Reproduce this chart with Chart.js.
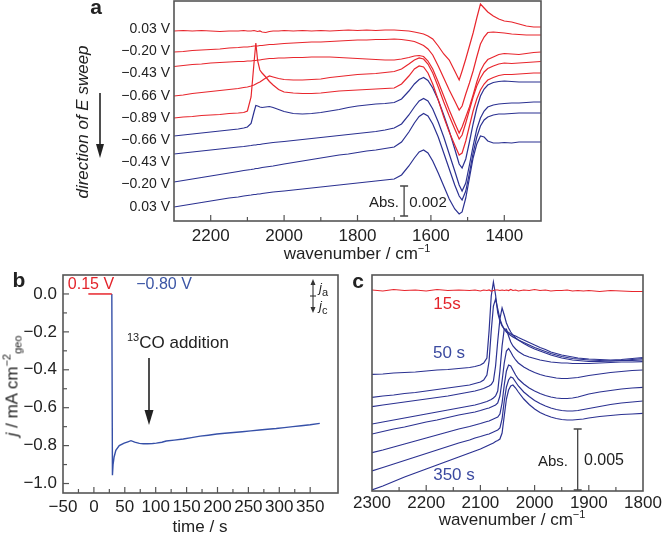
<!DOCTYPE html>
<html>
<head>
<meta charset="utf-8">
<script src="https://cdn.jsdelivr.net/npm/chart.js@4.4.0/dist/chart.umd.min.js"></script>
<style>
  body { margin: 0; background: #fff; font-family: "Liberation Sans", Arial, sans-serif; color: #222; }
  #wrap { position: relative; width: 666px; height: 533px; overflow: hidden; }
  canvas { position: absolute; }
  .t { position: absolute; white-space: nowrap; font-size: 17px; line-height: 1; }
  .c { transform: translate(-50%, -50%); }
  .t sup, .t sub { font-size: 11px; line-height: 0; }
  svg { position: absolute; left: 0; top: 0; }
</style>
</head>
<body>
<div id="wrap">
  <canvas id="chartA" width="560" height="262" style="left:0;top:0"></canvas>
  <canvas id="chartB" width="345" height="265" style="left:0;top:268px"></canvas>
  <canvas id="chartC" width="321" height="265" style="left:345px;top:268px"></canvas>

  <!-- panel a text -->
  <div class="t c" style="left:96px;top:6px;font-weight:bold;font-size:21px">a</div>
  <div class="t" style="left:82px;top:122px;transform:translate(-50%,-50%) rotate(-90deg);font-style:italic">direction of E sweep</div>
  <div class="t c" style="left:357px;top:253px">wavenumber / cm<sup>−1</sup></div>
  <div class="t c" style="left:384px;top:201px;font-size:15px">Abs.</div>
  <div class="t c" style="left:428px;top:201px;font-size:15px">0.002</div>

  <!-- panel b text -->
  <div class="t c" style="left:19px;top:279px;font-weight:bold;font-size:21px">b</div>
  <div class="t c" style="left:91px;top:284px;font-size:16px;color:#e3242b">0.15 V</div>
  <div class="t c" style="left:164px;top:284px;font-size:16px;color:#3b55a5">−0.80 V</div>
  <div class="t c" style="left:178px;top:342px"><sup>13</sup>CO addition</div>
  <div class="t" style="left:12px;top:386px;transform:translate(-50%,-50%) rotate(-90deg)"><i>j</i> / mA cm<sup>−2</sup><sub>geo</sub></div>
  <div class="t c" style="left:200px;top:526px">time / s</div>
  <div class="t" style="left:319px;top:281px;font-size:13px"><i>j</i><sub>a</sub></div>
  <div class="t" style="left:319px;top:299px;font-size:13px"><i>j</i><sub>c</sub></div>

  <!-- panel c text -->
  <div class="t c" style="left:358px;top:280px;font-weight:bold;font-size:21px">c</div>
  <div class="t c" style="left:447px;top:303px;color:#e3242b">15s</div>
  <div class="t c" style="left:449px;top:352px;color:#3b4aa0">50 s</div>
  <div class="t c" style="left:454px;top:474px;color:#3b4aa0">350 s</div>
  <div class="t c" style="left:553px;top:460px;font-size:15px">Abs.</div>
  <div class="t c" style="left:604px;top:460px;font-size:16px">0.005</div>
  <div class="t c" style="left:512px;top:519px">wavenumber / cm<sup>−1</sup></div>

  <svg width="666" height="533">
    <g stroke="#222" stroke-width="1.6" fill="#222">
      <line x1="100" y1="93" x2="100" y2="148"/>
      <polygon points="96,144 104,144 100,158" stroke="none"/>
      <line x1="149" y1="358" x2="149" y2="414"/>
      <polygon points="144.5,410 153.5,410 149,425" stroke="none"/>
    </g>
    <g stroke="#333" stroke-width="1.1" fill="#333">
      <line x1="313" y1="283" x2="313" y2="309"/>
      <line x1="310" y1="296" x2="316" y2="296"/>
      <polygon points="310.5,285 315.5,285 313,279" stroke="none"/>
      <polygon points="310.5,307 315.5,307 313,313" stroke="none"/>
    </g>
  </svg>
</div>

<script>
const RED = '#e8262d';
const BLUE = '#2b3191';
const TICK_FONT = { family: "'Liberation Sans', Arial, sans-serif", size: 17 };

// ---- panel a: potential-dependent spectra (height units: 30 = 0.002 Abs) ----
const WN_A = [2300, 2275, 2250, 2225, 2200, 2175, 2150, 2125, 2110, 2100, 2090, 2082, 2077, 2072, 2066,
  2060, 2050, 2040, 2030, 2015, 2000, 1975, 1950, 1925, 1900, 1875, 1850, 1825, 1800, 1775,
  1750, 1725, 1700, 1680, 1660, 1645, 1632, 1620, 1608, 1595, 1580, 1565, 1550, 1535, 1523,
  1515, 1505, 1495, 1485, 1475, 1465, 1455, 1445, 1430, 1415, 1400, 1380, 1360, 1340, 1320, 1300];
const V_LABELS = ['0.03 V', '−0.20 V', '−0.43 V', '−0.66 V', '−0.89 V', '−0.66 V', '−0.43 V', '−0.20 V', '0.03 V'];

const A_RED_003 = [190, 190.5, 190, 190.5, 190, 189.5, 190, 190, 190.5, 190, 190, 190.5, 190, 189.5, 190,
  189, 188.5, 189.5, 190, 190, 190.5, 190, 190.5, 190, 190.5, 190, 190.5, 191, 190.5, 191,
  190.5, 191, 191, 190.5, 190, 189, 188, 187, 185, 182, 175, 167, 161, 150, 141,
  150, 162, 175, 188, 203, 217, 213, 209, 205, 202, 200, 199, 197, 195, 194, 194];
const A_RED_020 = [169, 169.5, 170.5, 171, 171.5, 172, 173, 173.5, 174, 174, 174.5, 175, 175, 175, 175.5,
  175.5, 176, 176.5, 176.5, 177, 177.5, 178, 178.5, 179, 179, 179.5, 180, 180.5, 181, 181,
  181.5, 181.5, 182, 181.5, 180.5, 179.5, 177.5, 175.5, 172, 166, 155, 143, 131, 120, 111,
  115, 127, 138, 150, 164, 177, 184, 188.5, 189, 188.5, 188, 187, 186.5, 186, 186, 186];
const A_RED_043 = [154.5, 155.5, 156.5, 157, 158, 158.5, 159, 159.5, 159.5, 160, 160, 160.5, 160.5, 161, 161,
  161.5, 162, 162.5, 162.5, 163, 163, 163.5, 163.5, 164, 164, 164, 163.5, 163, 162.5, 162,
  161.5, 161, 161, 162, 163.5, 165, 165.5, 164.5, 160, 152, 139, 125, 111, 98, 88,
  94, 104, 114, 126, 139, 150, 157, 161.5, 164, 166.5, 167.5, 167, 166.5, 167.5, 168.5, 169];
const A_RED_066 = [125, 126, 127.5, 128.5, 129.5, 130.5, 131.5, 132.5, 133.5, 134, 135, 136, 137, 138, 139,
  140.5, 143, 145, 144, 142.5, 141.5, 141, 141, 141.5, 142, 143.5, 144.5, 145.5, 146.5, 147,
  147.5, 148.5, 149.5, 152, 157, 161, 163, 162, 157, 148, 134, 119, 105, 92, 82,
  86, 98, 111, 124, 135, 143, 149, 152.5, 155, 157, 158, 157.5, 158, 158.5, 159, 159.5];
const A_RED_089 = [103, 104, 104.5, 105.5, 106, 106.5, 107.5, 108, 108.5, 110, 124, 158, 178, 160, 151,
  148, 144, 139.5, 136, 131.5, 129, 128, 127.5, 127.5, 128, 129, 130, 130.5, 131, 131.5,
  132, 132.5, 133, 137, 145, 152, 155, 154, 148, 137, 121, 104, 89, 76, 66,
  68, 80, 95, 110, 122, 131, 137, 141, 143.5, 145.5, 146.5, 146.5, 147, 147.5, 148, 148];
const A_BLUE_066 = [85, 86, 87, 88, 89, 90, 91, 92, 93, 94, 97.5, 109, 115.5, 115, 114,
  113.5, 114, 114.5, 113.5, 111.5, 109.5, 107.5, 107, 107.5, 108.5, 110, 111.5, 113.5, 115, 116,
  117, 117.5, 118.5, 122, 130, 137, 141.5, 143.5, 140.5, 133, 121, 106, 90, 72, 57,
  53, 62, 79, 97, 113, 125, 132, 136, 138.5, 139.5, 140, 139.5, 139, 139, 139, 139];
const A_BLUE_043 = [67, 68, 69, 70, 71, 72, 73, 74, 74.5, 75, 75.5, 76, 76, 76.5, 76.5,
  77, 77.5, 78, 78.5, 79, 79.5, 80.5, 81.5, 82.5, 83.5, 84.5, 85.5, 86.5, 87.5, 88.5,
  89.5, 91, 93, 97, 106, 114, 120, 122.5, 120, 112, 99, 84, 67, 50, 36,
  30, 38, 56, 75, 92, 103, 110, 114, 116, 117, 117.5, 118, 118, 118.5, 119, 119];
const A_BLUE_020 = [39, 40.5, 42, 43.5, 45, 46.5, 48, 49.5, 50.5, 51, 51.5, 52, 52.5, 52.5, 53,
  53.5, 54, 54.5, 55, 56, 57, 58.5, 60, 61.5, 63, 64.5, 66, 67, 68.5, 70,
  71, 72.5, 74, 79, 89, 98, 104.5, 107.5, 105, 97, 84, 68, 52, 36, 25,
  21, 30, 48, 68, 84, 95, 101, 104, 106, 107, 107, 107.5, 108, 108, 108, 108];
const A_BLUE_003 = [14, 15.5, 17, 18.5, 20, 21.5, 23, 24, 25, 25.5, 26, 26.5, 26.5, 27, 27,
  27.5, 28, 28.5, 29, 29.5, 30, 31, 32, 33, 34, 35, 36, 37, 38, 39,
  40, 41, 42, 46, 55, 63, 69, 71, 68, 60, 48, 35, 22, 12, 7,
  9, 23, 43, 63, 77, 85, 84, 80, 78, 78, 78.5, 78, 79, 79, 79, 79];

// ---- panel b: chronoamperometry ----
const T_RED = [-9, 29];
const J_RED = [0, 0];
const T_BLUE = [29, 30, 31, 32.7, 35.5, 41, 49, 55, 60, 66, 73.6, 80, 87, 95, 101, 110, 117, 130, 144.6, 158,
  172, 185, 199, 212, 226, 240, 254, 268, 281, 295, 308, 322, 335.5, 350, 365.5];
const J_BLUE = [0, -0.956, -0.90, -0.86, -0.825, -0.80, -0.787, -0.78, -0.774, -0.782, -0.788, -0.79, -0.79, -0.789, -0.787,
  -0.782, -0.776, -0.771, -0.765, -0.758, -0.750, -0.745, -0.739, -0.735, -0.731, -0.727, -0.722, -0.718, -0.714,
  -0.710, -0.705, -0.700, -0.695, -0.690, -0.683];

// ---- panel c: time-resolved spectra (height units: 62 = 0.005 Abs) ----
const WN_C = [2300, 2280, 2260, 2240, 2220, 2200, 2180, 2160, 2140, 2120, 2110, 2100, 2094, 2088, 2084,
  2080, 2076, 2072, 2068, 2064, 2060, 2056, 2052, 2048, 2044, 2040, 2035, 2030, 2020, 2010,
  2000, 1990, 1980, 1970, 1960, 1950, 1940, 1930, 1920, 1910, 1900, 1880, 1860, 1840, 1820, 1800];
const C_15S = [201, 200, 201.5, 200.5, 201, 200, 201.5, 200.5, 201, 200.5, 201, 200, 201, 200.5, 201,
  200, 200.5, 201, 201, 200.5, 201, 200.5, 201, 200.5, 201.5, 200.5, 201, 200, 201, 200.5,
  201.5, 200.5, 201, 200, 200.5, 200.5, 201, 200, 200.5, 200, 200.5, 199.5, 200.5, 200, 199.5, 199.5];
const C_BLUE = [
  [116.7, 117, 118, 118.5, 119, 120, 121, 121.5, 122.5, 123.5, 124.5, 126, 128, 133, 160,
   195, 209, 196, 178, 170, 165, 162, 160, 158.5, 157, 156, 155, 153.5, 151, 148.5,
   146, 143.5, 141.5, 139, 137.5, 136, 135, 134, 133, 132.5, 132, 131.5, 131, 131.5, 132.5, 133.5],
  [93.7, 95, 96, 97.5, 98.5, 100, 101.5, 103, 104.5, 106, 107.5, 109, 111, 116, 130,
   160, 185, 192, 182, 172, 166, 162, 159, 157, 155.5, 154, 152.5, 151, 148.5, 146,
   143.5, 141.5, 139.5, 137.5, 136, 134.5, 133.5, 132.5, 132, 131.5, 131, 130.5, 130, 130.5, 131.5, 132.3],
  [84.3, 86, 87.5, 89, 90.5, 92, 93.5, 95, 97, 99, 100, 101.5, 102.5, 104, 105,
   106.5, 110, 125, 150, 172, 183, 176, 168, 163, 159, 156, 153, 151, 147.5, 144.5,
   142, 140, 138, 136, 134.5, 133, 132, 131, 130.5, 130, 129.5, 129.5, 130, 130.5, 130.5, 131],
  [67, 69, 71, 73, 75, 77, 79, 81, 83, 85, 86, 87.5, 88.5, 89.5, 90.5,
   91.5, 93, 95, 100, 120, 145, 162, 162, 155, 149, 145, 142, 139.5, 136, 134,
   132.5, 131, 130, 129, 128.5, 128, 128, 127.5, 127.5, 127.5, 127.5, 128, 128.5, 129, 129, 129.3],
  [57, 59.5, 62, 64, 66.5, 69, 71, 73.5, 76, 78, 79, 80.5, 81.5, 82.5, 83,
   84, 85, 86, 88, 95, 110, 128, 140, 142.5, 139, 135, 131, 128, 124, 121,
   118.5, 116.5, 115, 114, 113, 112.5, 112.5, 113, 113.5, 114.5, 115.5, 117, 118.5, 119.5, 120.5, 121],
  [38.3, 41, 44, 47, 50, 53, 56, 59, 62, 64.5, 66, 67.5, 68.5, 69.5, 70,
   71, 72, 73, 74, 77, 88, 106, 120, 126, 125, 121, 116, 112, 107, 103,
   100, 97.5, 95.5, 94, 93, 92.5, 92.5, 93, 94, 95.5, 97, 99, 100.5, 102, 103, 103.7],
  [20, 23.5, 27, 30.5, 34, 37.5, 41, 44.5, 48, 51, 53, 54.5, 55.5, 56.5, 57,
   58, 59, 60, 61, 63, 72, 90, 104, 111, 114, 113, 109, 105, 99, 94.5,
   90.5, 87.5, 85, 83, 81.5, 80.5, 80, 80, 80.5, 81.5, 82.5, 84.5, 86.5, 88, 89, 90],
  [1, 5, 9.5, 14, 18, 22, 26, 30, 34, 38, 40, 42, 43.5, 45, 46,
   47, 48, 49.5, 50.5, 52, 58, 75, 92, 101, 105, 106, 103, 99, 92, 86.5,
   82, 78.5, 76, 74, 72.5, 71.5, 71, 71, 71.5, 72, 73, 74.5, 75.5, 76.5, 77, 77.7]
];

function series(xs, ys) {
  return xs.map((x, i) => ({ x, y: ys[i] }));
}

function line(xs, ys, color, width) {
  return { data: series(xs, ys), borderColor: color, borderWidth: width || 1.2, showLine: true, pointRadius: 0, tension: 0 };
}

function isStep(v, step) {
  const r = v / step;
  return Math.abs(r - Math.round(r)) < 1e-6;
}

// fixed axis sizes so the plot boxes land where the reference has them
function fixY(width) {
  return s => { s.width = width; s.paddingTop = 0; s.paddingBottom = 0; };
}
function fixX(height) {
  return s => { s.height = height; s.paddingLeft = 0; s.paddingRight = 0; };
}

// box around the plot area and inward tick marks
const frameTicks = {
  id: 'frameTicks',
  afterDraw(chart, args, opts) {
    const { ctx, chartArea: a } = chart;
    ctx.save();
    ctx.strokeStyle = '#555';
    ctx.lineWidth = 1.6;
    ctx.strokeRect(a.left, a.top, a.right - a.left, a.bottom - a.top);
    ctx.lineWidth = 1.2;
    if (opts.x) {
      const sc = chart.scales.x;
      sc.ticks.forEach(t => {
        if (!isStep(t.value, opts.x.minor)) return;
        const px = sc.getPixelForValue(t.value);
        if (px <= a.left + 1 || px >= a.right - 1) return;
        const len = isStep(t.value, opts.x.major) ? 6 : 4;
        ctx.beginPath(); ctx.moveTo(px, a.bottom); ctx.lineTo(px, a.bottom - len); ctx.stroke();
      });
    }
    if (opts.y) {
      const sc = chart.scales.y;
      sc.ticks.forEach(t => {
        if (!isStep(t.value, opts.y.minor)) return;
        const py = sc.getPixelForValue(t.value);
        if (py <= a.top + 1 || py >= a.bottom - 1) return;
        const len = isStep(t.value, opts.y.major) ? 6 : 4;
        ctx.beginPath(); ctx.moveTo(a.left, py); ctx.lineTo(a.left + len, py); ctx.stroke();
      });
    }
    ctx.restore();
  }
};

// vertical I-shaped absorbance scale bar
const scaleBar = {
  id: 'scaleBar',
  afterDraw(chart, args, opts) {
    if (opts.x === undefined) return;
    const { ctx, scales: { x, y } } = chart;
    const px = x.getPixelForValue(opts.x);
    const y0 = y.getPixelForValue(opts.y0), y1 = y.getPixelForValue(opts.y1);
    ctx.save();
    ctx.strokeStyle = '#444';
    ctx.lineWidth = 1.3;
    ctx.beginPath();
    ctx.moveTo(px, y0); ctx.lineTo(px, y1);
    ctx.moveTo(px - 4, y0); ctx.lineTo(px + 4, y0);
    ctx.moveTo(px - 4, y1); ctx.lineTo(px + 4, y1);
    ctx.stroke();
    ctx.restore();
  }
};

const baseGrid = { display: false, drawTicks: false };
const noBorder = { display: false };

// panel a
const aTraces = [A_RED_003, A_RED_020, A_RED_043, A_RED_066, A_RED_089, A_BLUE_066, A_BLUE_043, A_BLUE_020, A_BLUE_003];
new Chart(document.getElementById('chartA'), {
  type: 'scatter',
  data: { datasets: aTraces.map((ys, i) => line(WN_A, ys, i < 5 ? RED : BLUE)) },
  options: {
    responsive: false, animation: false,
    layout: { padding: { top: 1, right: 19, left: 0, bottom: 0 } },
    plugins: {
      legend: { display: false }, tooltip: { enabled: false },
      frameTicks: { x: { minor: 100, major: 200 } },
      scaleBar: { x: 1673, y0: 5, y1: 35 }
    },
    scales: {
      x: {
        type: 'linear', reverse: true, min: 1300, max: 2300,
        grid: baseGrid, border: noBorder,
        ticks: { stepSize: 100, autoSkip: false, maxRotation: 0, padding: 5, color: '#222', font: TICK_FONT,
          callback: v => isStep(v, 200) ? String(v) : '' },
        afterFit: fixX(41)
      },
      y: {
        min: 0, max: 220,
        grid: baseGrid, border: noBorder,
        afterBuildTicks: s => { s.ticks = V_LABELS.map((_, i) => ({ value: 191.7 - i * 22.17 })); },
        ticks: { padding: 4, color: '#222', font: { ...TICK_FONT, size: 14 }, callback: (v, i) => V_LABELS[i] },
        afterFit: fixY(174)
      }
    }
  },
  plugins: [frameTicks, scaleBar]
});

// panel b
new Chart(document.getElementById('chartB'), {
  type: 'scatter',
  data: { datasets: [line(T_RED, J_RED, RED, 1.5), line(T_BLUE, J_BLUE, '#3650a8', 1.4)] },
  options: {
    responsive: false, animation: false,
    layout: { padding: { top: 7, right: 7, left: 0, bottom: 0 } },
    plugins: {
      legend: { display: false }, tooltip: { enabled: false },
      frameTicks: { x: { minor: 25, major: 50 }, y: { minor: 0.1, major: 0.2 } }
    },
    scales: {
      x: {
        type: 'linear', min: -50, max: 395,
        grid: baseGrid, border: noBorder,
        ticks: { stepSize: 25, autoSkip: false, maxRotation: 0, padding: 4, color: '#222', font: TICK_FONT,
          callback: v => isStep(v, 50) ? String(v).replace('-', '−') : '' },
        afterFit: fixX(40)
      },
      y: {
        min: -1.05, max: 0.1,
        grid: baseGrid, border: noBorder,
        afterBuildTicks: s => {
          const list = [];
          for (let k = -10; k <= 1; k++) list.push({ value: k / 10 });
          s.ticks = list;
        },
        ticks: { autoSkip: false, padding: 6, color: '#222', font: TICK_FONT,
          callback: v => (isStep(v, 0.2) && v < 0.05) ? (Math.abs(v) < 1e-6 ? '0.0' : v.toFixed(1).replace('-', '−')) : '' },
        afterFit: fixY(63)
      }
    }
  },
  plugins: [frameTicks]
});

// panel c
new Chart(document.getElementById('chartC'), {
  type: 'scatter',
  data: { datasets: [line(WN_C, C_15S, RED)].concat(C_BLUE.map(ys => line(WN_C, ys, BLUE))) },
  options: {
    responsive: false, animation: false,
    layout: { padding: { top: 7, right: 23, left: 27, bottom: 0 } },
    plugins: {
      legend: { display: false }, tooltip: { enabled: false },
      frameTicks: { x: { minor: 50, major: 100 } },
      scaleBar: { x: 1920.5, y0: 1, y1: 62 }
    },
    scales: {
      x: {
        type: 'linear', reverse: true, min: 1800, max: 2300,
        grid: baseGrid, border: noBorder,
        ticks: { stepSize: 50, autoSkip: false, maxRotation: 0, padding: 2, color: '#222', font: TICK_FONT,
          callback: v => isStep(v, 100) ? String(v) : '' },
        afterFit: fixX(42)
      },
      y: { display: false, min: 0, max: 216 }
    }
  },
  plugins: [frameTicks, scaleBar]
});
</script>
</body>
</html>
